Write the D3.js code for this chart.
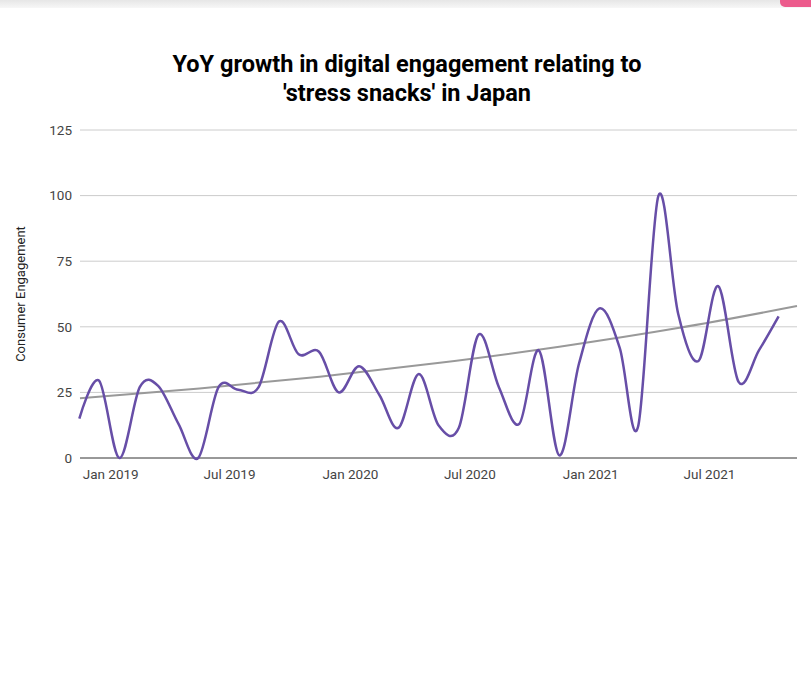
<!DOCTYPE html>
<html>
<head>
<meta charset="utf-8">
<script src="https://cdn.jsdelivr.net/npm/d3@7"></script>
<style>
  body { margin: 0; background: #fff; font-family: Roboto, "Noto Sans", sans-serif; }
  #chart { width: 811px; height: 678px; }
</style>
</head>
<body>
<div id="chart"></div>
<script>
// monthly readings, Nov 2018 .. Oct 2021 (plotted mid month)
var months = ["2018-11","2018-12","2019-01","2019-02","2019-03","2019-04","2019-05","2019-06","2019-07","2019-08","2019-09","2019-10",
  "2019-11","2019-12","2020-01","2020-02","2020-03","2020-04","2020-05","2020-06","2020-07","2020-08","2020-09","2020-10",
  "2020-11","2020-12","2021-01","2021-02","2021-03","2021-04","2021-05","2021-06","2021-07","2021-08","2021-09","2021-10"];
var engagement = [15, 29.5, 0, 27, 27.5, 13, 0, 27, 26, 27, 52, 39.5,
  40.5, 25, 35, 24, 11.5, 32, 12.5, 11.5, 47, 27, 13, 41,
  1, 36, 57, 42, 12, 100, 55, 37, 65.5, 29, 41, 54];

// trend line at a few dates
var trendDates = ["2018-11-16","2019-05-17","2019-11-16","2020-05-17","2020-11-15","2021-05-17","2021-11-12"];
var trendValues = [22.8, 26.5, 31.0, 36.3, 42.4, 49.6, 57.9];

var yTicks = [0, 25, 50, 75, 100, 125];
var xTicks = ["2019-01-01","2019-07-01","2020-01-01","2020-07-01","2021-01-01","2021-07-01"];

var parseMonth = d3.timeParse("%Y-%m");
var parseDay = d3.timeParse("%Y-%m-%d");

var data = months.map(function(m, i) {
    var d = parseMonth(m);
    d.setDate(15);
    return { date: d, value: engagement[i] };
});
var trend = trendDates.map(function(t, i) {
    return { date: parseDay(t), value: trendValues[i] };
});

var width = 811, height = 678;
var plotLeft = 80, plotRight = 797, plotTop = 130, plotBottom = 458;

var svg = d3.select("#chart").append("svg")
    .attr("width", width)
    .attr("height", height);

// top strip of the page
var grad = svg.append("defs").append("linearGradient")
    .attr("id", "topfade").attr("x1", 0).attr("x2", 0).attr("y1", 0).attr("y2", 1);
grad.append("stop").attr("offset", "0%").attr("stop-color", "#e6e6e6");
grad.append("stop").attr("offset", "100%").attr("stop-color", "#f7f7f7");
svg.append("rect").attr("x", 0).attr("y", 0).attr("width", width).attr("height", 8)
    .attr("fill", "url(#topfade)");
svg.append("rect").attr("x", 780).attr("y", -6).attr("width", 40).attr("height", 13)
    .attr("rx", 5).attr("fill", "#ec5b8c");

var x = d3.scaleTime()
    .domain([parseDay("2018-11-16"), parseDay("2021-11-12")])
    .range([plotLeft, plotRight]);

var y = d3.scaleLinear()
    .domain([0, 125])
    .range([plotBottom, plotTop]);

// gridlines
svg.append("g")
    .selectAll("line")
    .data(yTicks.filter(function(t){ return t > 0; }))
    .enter()
    .append("line")
    .attr("x1", plotLeft)
    .attr("x2", plotRight)
    .attr("y1", function(d){ return y(d); })
    .attr("y2", function(d){ return y(d); })
    .attr("stroke", "#cccccc")
    .attr("stroke-width", 1);

// y axis labels
var yAxis = d3.axisLeft(y).tickValues(yTicks).tickSize(0).tickPadding(8);
svg.append("g")
    .attr("transform", "translate(" + plotLeft + ",0)")
    .call(yAxis)
    .call(function(g){ g.select(".domain").remove(); })
    .selectAll("text")
    .attr("font-family", "Roboto")
    .attr("font-size", 13.5)
    .attr("fill", "#444");

// x axis labels
var xAxis = d3.axisBottom(x)
    .tickValues(xTicks.map(parseDay))
    .tickFormat(d3.timeFormat("%b %Y"))
    .tickSize(0)
    .tickPadding(11);
svg.append("g")
    .attr("transform", "translate(0," + plotBottom + ")")
    .call(xAxis)
    .call(function(g){ g.select(".domain").remove(); })
    .selectAll("text")
    .attr("font-family", "Roboto")
    .attr("font-size", 13.5)
    .attr("fill", "#444");

// baseline
svg.append("line")
    .attr("x1", plotLeft).attr("x2", plotRight)
    .attr("y1", y(0)).attr("y2", y(0))
    .attr("stroke", "#333").attr("stroke-width", 1);

// trend
var trendLine = d3.line()
    .x(function(d){ return x(d.date); })
    .y(function(d){ return y(d.value); })
    .curve(d3.curveMonotoneX);
svg.append("path")
    .datum(trend)
    .attr("d", trendLine)
    .attr("fill", "none")
    .attr("stroke", "#999999")
    .attr("stroke-width", 2);

// engagement series
var line = d3.line()
    .x(function(d){ return x(d.date); })
    .y(function(d){ return y(d.value); })
    .curve(d3.curveCardinal.tension(0));
svg.append("path")
    .datum(data)
    .attr("d", line)
    .attr("fill", "none")
    .attr("stroke", "#674ea7")
    .attr("stroke-width", 2.5)
    .attr("stroke-linejoin", "round");

// title
var title = svg.append("text")
    .attr("text-anchor", "middle")
    .attr("font-family", "Roboto")
    .attr("font-weight", "bold")
    .attr("font-size", 23.5)
    .attr("fill", "#000");
title.append("tspan").attr("x", 407).attr("y", 72).text("YoY growth in digital engagement relating to");
title.append("tspan").attr("x", 407).attr("y", 101).text("'stress snacks' in Japan");

// y axis title
svg.append("text")
    .attr("transform", "translate(25," + ((plotTop + plotBottom) / 2) + ") rotate(-90)")
    .attr("text-anchor", "middle")
    .attr("font-family", "Roboto")
    .attr("font-size", 13)
    .attr("fill", "#222")
    .text("Consumer Engagement");
</script>
</body>
</html>
